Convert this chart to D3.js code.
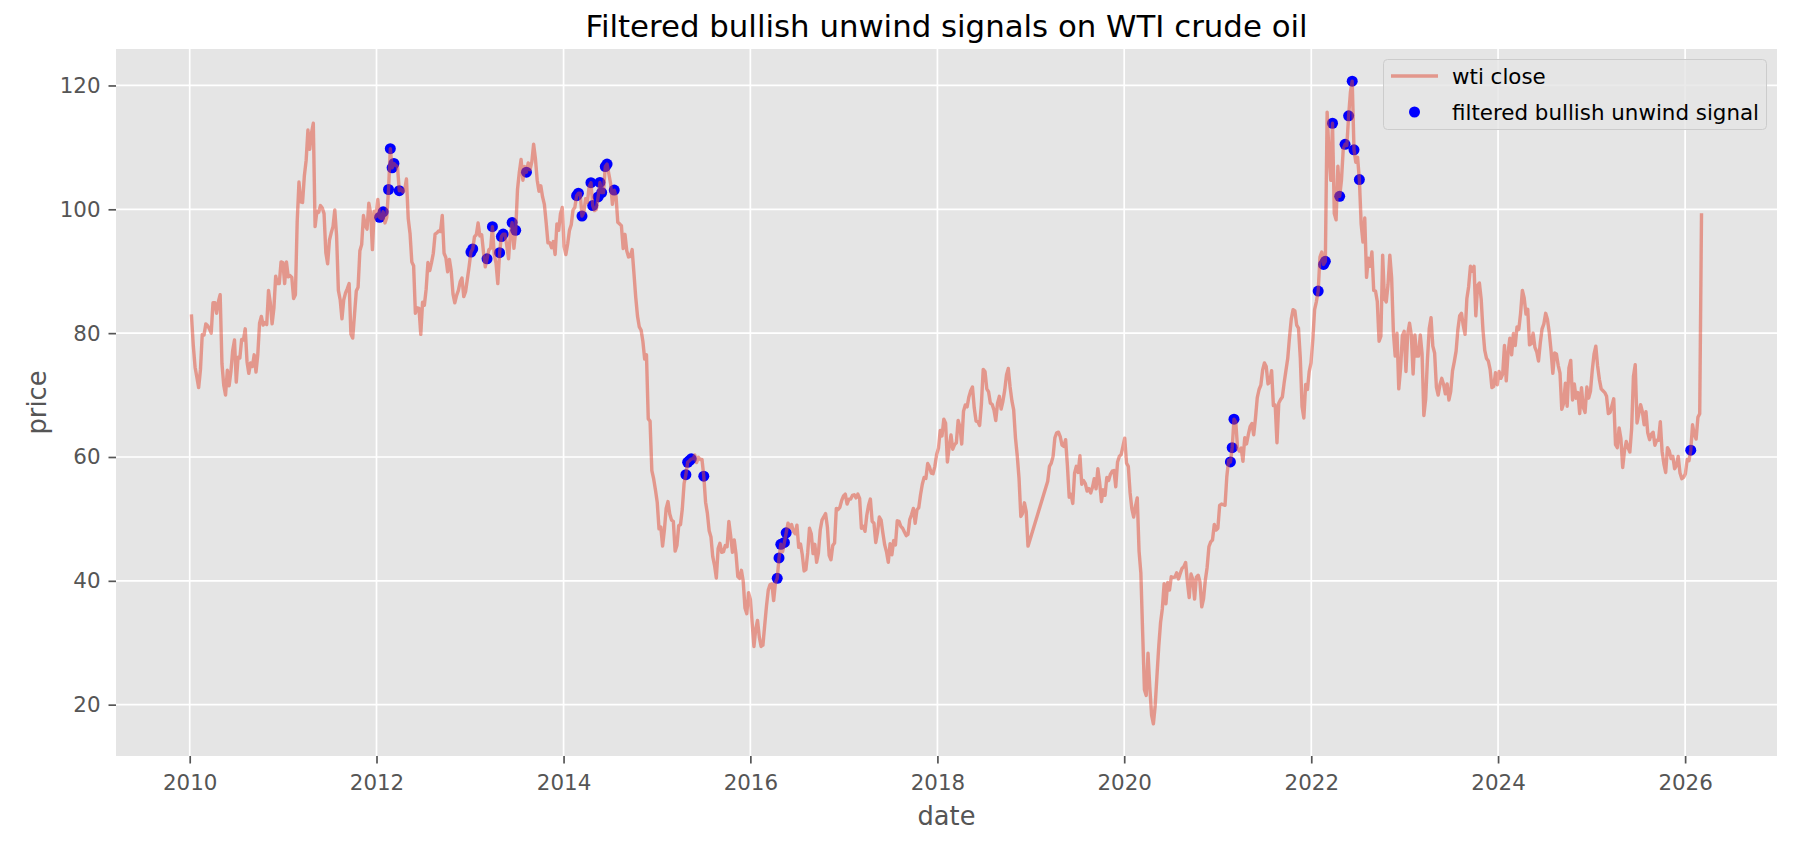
<!DOCTYPE html>
<html>
<head>
<meta charset="utf-8">
<script src="https://cdn.jsdelivr.net/npm/d3@7"></script>
<style>
  html, body { margin: 0; padding: 0; background: #ffffff; }
  svg { display: block; font-family: "DejaVu Sans", sans-serif; }
</style>
</head>
<body>
<svg id="chart" width="1804" height="845"></svg>
<script>
// ---------------- data ----------------
const chartTitle = "Filtered bullish unwind signals on WTI crude oil";
const seriesNames = ["wti close", "filtered bullish unwind signal"];
const xLabel = "date";
const yLabel = "price";
const xTickYears = [2010, 2012, 2014, 2016, 2018, 2020, 2022, 2024, 2026];
const yTicks = [20, 40, 60, 80, 100, 120];

// first weekly (Friday) observation of each year
const firstFridays = ["2010-01-08","2011-01-07","2012-01-06","2013-01-04","2014-01-03","2015-01-02",
  "2016-01-01","2017-01-06","2018-01-05","2019-01-04","2020-01-03","2021-01-01","2022-01-07",
  "2023-01-06","2024-01-05","2025-01-03","2026-01-02"];

// weekly WTI closes (null = week missing from the dataset)
const close2010 = [82.75,78.0,74.5,72.9,71.2,74.1,79.8,79.7,81.5,81.2,80.7,80.0,84.9,84.9,83.2,85.1,86.2,75.1,71.6,70.0,74.0,71.5,73.8,77.2,78.9,72.1,76.1,76.0,79.0,78.9,80.7,75.4,73.5,75.2,74.6,76.5,73.7,76.5,81.6,82.7,81.3,81.7,81.4,86.9,84.9,81.5,84.0,89.2,88.0,88.0,91.5,91.4];
const close2011 = [88.0,91.5,89.1,89.3,89.0,85.6,86.2,98.0,104.4,101.2,101.1,105.4,107.9,112.8,109.7,112.3,113.9,97.2,99.7,99.5,100.6,100.2,99.3,93.0,91.2,95.0,96.2,97.2,99.9,95.7,86.9,85.4,82.3,85.4,86.5,87.2,88.0,79.85,79.2,83.0,86.8,87.4,93.3,94.3,99.0,97.4,96.8,101.0,99.4,93.5,99.7,98.8];
const close2012 = [101.6,98.7,98.5,99.6,97.8,98.7,103.2,109.8,106.7,107.4,107.1,106.9,103.0,103.3,102.8,103.1,104.9,98.5,96.1,91.5,90.9,83.2,84.1,84.0,79.8,85.0,84.5,87.1,91.4,90.1,91.4,92.9,96.0,96.2,96.5,96.4,99.0,92.9,92.2,89.9,91.9,90.0,86.3,84.9,86.1,86.9,88.3,88.9,85.9,86.7,88.7,90.8];
const close2013 = [93.1,93.6,95.6,95.9,97.8,95.7,95.9,93.1,90.7,92.0,93.45,93.7,97.2,92.7,91.3,88.0,93.0,95.6,96.0,96.0,94.2,92.0,96.0,97.85,93.7,96.6,103.2,105.95,108.05,104.7,106.9,106.0,107.5,106.4,107.65,110.5,108.2,104.7,102.9,103.8,102.0,100.8,97.85,94.6,94.6,93.8,94.8,92.7,97.65,96.6,99.3,100.3];
const close2014 = [93.96,92.7,94.4,96.6,97.5,99.9,100.3,102.2,102.6,102.6,98.9,99.5,101.7,101.1,103.7,104.3,100.6,99.8,100.0,102.0,104.35,102.7,102.7,106.9,107.3,105.7,104.1,100.8,103.1,102.1,97.9,97.65,97.35,93.65,95.96,93.3,92.3,92.4,93.5,89.7,85.8,82.75,81.0,80.5,78.65,75.8,76.5,66.15,65.8,57.8,56.5,54.7];
const close2015 = [52.7,48.4,48.7,45.6,48.2,51.7,52.8,50.8,49.8,49.6,44.8,45.7,48.9,49.1,51.6,55.7,57.15,59.15,59.4,59.7,59.7,60.3,59.1,59.96,59.6,59.6,56.9,52.7,50.9,48.1,47.1,43.9,42.5,40.45,45.2,46.05,44.6,44.7,45.7,45.5,49.6,47.3,44.6,46.6,44.3,40.7,40.4,41.7,39.97,35.6,34.7,38.1];
const close2016 = [37.0,33.2,29.4,32.2,33.6,30.9,29.4,29.6,32.8,35.9,38.5,39.4,39.5,36.8,39.7,40.4,43.7,45.9,44.7,46.2,47.75,49.3,48.6,49.1,48.0,47.6,49.0,45.4,45.95,44.2,41.6,41.8,44.5,48.5,47.6,44.4,45.9,43.0,44.5,48.2,49.8,50.35,50.85,48.7,44.1,43.4,45.7,46.1,51.7,51.5,51.9,53.0,53.7];
const close2017 = [54.0,52.4,53.2,53.2,53.8,53.9,53.4,54.0,53.3,48.5,48.8,48.0,50.6,52.2,53.2,49.6,49.3,46.2,47.8,50.3,49.8,47.7,45.8,44.7,43.0,46.0,44.2,46.5,45.8,49.7,49.6,48.8,48.5,47.9,47.3,47.5,49.9,50.7,51.7,49.3,51.45,51.8,53.9,55.6,56.7,56.55,58.95,58.4,57.4,57.3,58.5,60.4];
const close2018 = [61.4,64.3,63.4,66.1,65.45,59.2,61.7,63.55,61.25,62.0,62.3,65.9,64.9,62.1,67.4,68.4,68.1,69.7,70.7,71.3,67.9,65.8,65.7,65.1,68.6,74.15,73.8,71.0,70.5,68.7,68.5,67.6,65.9,68.7,69.8,67.75,68.99,70.8,73.25,74.3,71.3,69.1,67.6,63.1,60.2,56.5,50.4,50.9,52.6,51.2,45.6,null];
const close2019 = [null,null,null,null,null,null,null,null,null,56.07,58.5,59.0,60.1,63.1,63.9,64.0,63.3,61.9,61.7,62.8,58.6,53.5,53.99,52.5,57.4,58.5,57.5,60.2,55.6,56.2,55.7,54.5,54.9,54.2,55.1,56.5,54.85,58.1,55.9,52.8,54.7,53.8,56.7,56.2,57.2,57.7,57.8,55.2,59.2,60.1,60.4,61.7];
const close2020 = [63.05,59.0,58.5,54.2,51.6,50.3,52.05,53.4,44.8,41.3,31.7,22.4,21.5,28.3,22.8,18.3,16.9,19.8,24.7,29.4,33.25,35.5,39.55,36.3,39.75,38.5,40.65,40.55,40.6,41.3,40.3,41.2,42.0,42.3,42.97,39.8,37.3,41.1,40.25,37.05,40.6,40.9,39.85,35.8,37.1,40.1,42.15,45.5,46.3,46.6,49.1,48.2];
const close2021 = [48.5,52.2,52.4,52.3,52.2,56.85,59.5,59.2,61.5,66.1,65.6,61.4,60.97,61.45,59.3,63.1,62.1,63.6,64.9,65.4,63.6,66.3,69.6,70.9,71.6,74.05,75.2,74.6,71.8,72.1,73.95,68.3,68.4,62.3,68.7,69.3,69.7,71.97,73.98,75.9,79.35,82.3,83.8,83.6,81.3,80.8,76.1,68.15,66.3,71.7,70.9,73.8,75.2];
const close2022 = [78.9,83.8,85.1,86.8,92.3,93.1,91.1,91.6,115.7,109.3,104.7,113.9,99.3,98.3,106.95,102.1,104.7,109.8,110.5,110.3,115.1,118.9,120.7,109.6,107.6,108.4,104.8,97.6,94.7,98.6,89.0,92.1,90.8,93.1,86.9,86.8,85.1,78.7,79.5,92.6,85.6,85.05,87.9,92.6,88.96,80.1,76.3,79.98,71.0,74.3,79.6,80.3];
const close2023 = [73.8,79.9,81.6,79.7,73.4,79.7,76.3,76.3,79.7,76.7,66.7,69.3,75.7,80.7,82.5,77.9,76.8,71.3,70.0,71.7,72.7,71.7,70.2,71.8,69.2,70.6,73.9,75.4,77.1,80.6,82.8,83.2,81.25,79.8,85.55,87.5,90.8,90.0,90.8,82.8,87.7,88.1,85.5,80.5,77.2,75.9,75.5,74.1,71.2,71.4,73.6,71.65];
const close2024 = [73.8,72.7,73.4,78.0,72.3,76.8,79.2,76.5,79.97,78.0,81.0,80.6,83.2,86.9,85.7,83.1,83.85,78.1,78.3,80.0,77.7,77.0,75.5,78.45,80.7,81.5,83.2,82.2,80.1,77.2,73.5,76.8,76.65,74.8,73.55,67.7,68.65,71.9,68.2,74.4,75.6,69.2,71.8,69.5,70.4,67.0,71.2,68.0,67.2,71.3,69.5,70.6];
const close2025 = [73.96,76.6,77.9,74.7,72.5,71.0,70.7,70.4,69.8,67.0,67.2,68.3,69.4,61.99,61.5,64.7,63.0,58.3,61.0,62.5,61.5,60.8,64.6,72.98,74.9,65.5,67.0,68.45,67.3,65.2,67.3,63.9,62.8,63.7,64.0,61.9,62.7,62.7,65.7,60.9,58.9,57.5,61.5,60.98,59.75,60.1,58.1,58.6,60.1,57.4,56.5,56.7];
const close2026 = [57.3,59.6,59.4,61.1,65.2,63.6,62.9,66.4,67.0,99.1];

// weeks flagged as filtered bullish unwind signals
const signalDates = ["2012-01-13","2012-01-27","2012-02-17","2012-02-24","2012-03-02","2012-03-09","2012-03-30",
  "2013-01-04","2013-01-11","2013-03-08","2013-03-29","2013-04-26","2013-05-03","2013-05-10","2013-06-14","2013-06-28","2013-08-09",
  "2014-02-21","2014-02-28","2014-03-14","2014-04-18","2014-04-25","2014-05-16","2014-05-23","2014-05-30","2014-06-13","2014-06-20","2014-07-18",
  "2015-04-24","2015-05-01","2015-05-08","2015-05-15","2015-07-03",
  "2016-04-15","2016-04-22","2016-04-29","2016-05-13","2016-05-20",
  "2021-02-19","2021-02-26","2021-03-05",
  "2022-01-28","2022-02-18","2022-02-25","2022-03-25","2022-04-22","2022-05-13","2022-05-27","2022-06-10","2022-06-17","2022-07-08",
  "2026-01-23"];

// ---------------- build ----------------
const yearCloses = [close2010,close2011,close2012,close2013,close2014,close2015,close2016,close2017,
  close2018,close2019,close2020,close2021,close2022,close2023,close2024,close2025,close2026];
const parse = d3.utcParse("%Y-%m-%d");
const fmt = d3.utcFormat("%Y-%m-%d");
const series = [];
yearCloses.forEach((arr, k) => {
  const start = parse(firstFridays[k]);
  arr.forEach((v, i) => {
    if (v !== null) series.push({ date: d3.utcDay.offset(start, 7 * i), close: v });
  });
});
const byDate = new Map(series.map(d => [fmt(d.date), d]));
const signals = signalDates.map(s => byDate.get(s)).filter(Boolean);

// ---------------- layout ----------------
const plot = { left: 116, right: 1777, top: 49, bottom: 756 };
const colors = { bg: "#E5E5E5", grid: "#FFFFFF", tick: "#555555", line: "#E24A33", dot: "#0000FF" };
const fs = { tick: "21.4px", label: "25.7px", title: "30.8px", legend: "21.4px" };

const svg = d3.select("#chart");

const [x0, x1] = d3.extent(series, d => d.date);
const xpad = (x1 - x0) * 0.05;
const x = d3.scaleUtc().domain([new Date(+x0 - xpad), new Date(+x1 + xpad)]).range([plot.left, plot.right]);
const [y0, y1] = d3.extent(series, d => d.close);
const ypad = (y1 - y0) * 0.05;
const y = d3.scaleLinear().domain([y0 - ypad, y1 + ypad]).range([plot.bottom, plot.top]);

const xTickDates = xTickYears.map(yr => new Date(Date.UTC(yr, 0, 1)));

// background
svg.append("rect").attr("x", plot.left).attr("y", plot.top)
  .attr("width", plot.right - plot.left).attr("height", plot.bottom - plot.top)
  .attr("fill", colors.bg);

// grid
const grid = svg.append("g");
grid.selectAll("line.gx").data(xTickDates).join("line")
  .attr("x1", d => x(d)).attr("x2", d => x(d))
  .attr("y1", plot.top).attr("y2", plot.bottom)
  .attr("stroke", colors.grid).attr("stroke-width", 1.7);
grid.selectAll("line.gy").data(yTicks).join("line")
  .attr("y1", d => y(d)).attr("y2", d => y(d))
  .attr("x1", plot.left).attr("x2", plot.right)
  .attr("stroke", colors.grid).attr("stroke-width", 1.7);

// axes
const xAxis = svg.append("g").attr("transform", `translate(0,${plot.bottom})`)
  .call(d3.axisBottom(x).tickValues(xTickDates).tickFormat(d3.utcFormat("%Y")).tickSize(7.5).tickPadding(7));
const yAxis = svg.append("g").attr("transform", `translate(${plot.left},0)`)
  .call(d3.axisLeft(y).tickValues(yTicks).tickSize(7.5).tickPadding(8));
[xAxis, yAxis].forEach(g => {
  g.select(".domain").remove();
  g.selectAll(".tick line").attr("stroke", colors.tick).attr("stroke-width", 1.7);
  g.selectAll(".tick text").attr("fill", colors.tick)
    .style("font-family", "'DejaVu Sans', sans-serif").style("font-size", fs.tick);
});
xAxis.selectAll(".tick text").attr("y", 34).attr("dy", null);

// scatter (below line, like matplotlib zorder)
svg.append("g").selectAll("circle").data(signals).join("circle")
  .attr("cx", d => x(d.date)).attr("cy", d => y(d.close)).attr("r", 5.5)
  .attr("fill", colors.dot);

// price line
const line = d3.line().x(d => x(d.date)).y(d => y(d.close));
svg.append("path").datum(series)
  .attr("d", line).attr("fill", "none")
  .attr("stroke", colors.line).attr("stroke-opacity", 0.5)
  .attr("stroke-width", 3.4).attr("stroke-linejoin", "round").attr("stroke-linecap", "square");

// title and labels
const cx = (plot.left + plot.right) / 2;
svg.append("text").attr("x", cx).attr("y", 37).attr("text-anchor", "middle")
  .style("font-size", fs.title).attr("fill", "#000").text(chartTitle);
svg.append("text").attr("x", cx).attr("y", 825).attr("text-anchor", "middle")
  .style("font-size", fs.label).attr("fill", colors.tick).text(xLabel);
svg.append("text").attr("transform", `translate(46,${(plot.top + plot.bottom) / 2}) rotate(-90)`)
  .attr("text-anchor", "middle").style("font-size", fs.label).attr("fill", colors.tick).text(yLabel);

// legend
const lg = svg.append("g");
lg.append("rect").attr("x", 1383.5).attr("y", 59.5).attr("width", 383).attr("height", 70)
  .attr("rx", 4).attr("fill", colors.bg).attr("fill-opacity", 0.8)
  .attr("stroke", "#CCCCCC").attr("stroke-width", 1);
lg.append("line").attr("x1", 1391).attr("x2", 1438).attr("y1", 76).attr("y2", 76)
  .attr("stroke", colors.line).attr("stroke-opacity", 0.5).attr("stroke-width", 3.4);
lg.append("circle").attr("cx", 1414.5).attr("cy", 112).attr("r", 5.5).attr("fill", colors.dot);
lg.append("text").attr("x", 1452).attr("y", 83.5).style("font-size", fs.legend).attr("fill", "#000").text(seriesNames[0]);
lg.append("text").attr("x", 1452).attr("y", 119.5).style("font-size", fs.legend).attr("fill", "#000").text(seriesNames[1]);
</script>
</body>
</html>
